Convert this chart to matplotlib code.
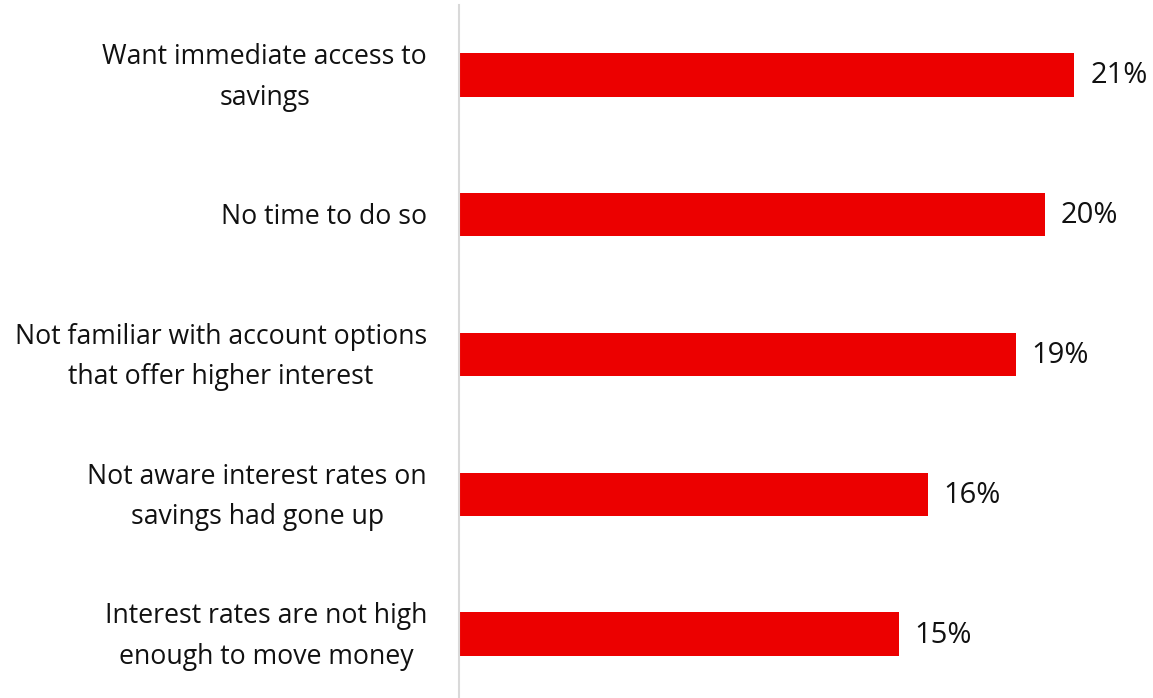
import matplotlib
matplotlib.use("Agg")
import matplotlib.pyplot as plt
import matplotlib.transforms as mtransforms

categories = [
    "Want immediate access to\nsavings",
    "No time to do so",
    "Not familiar with account options\nthat offer higher interest",
    "Not aware interest rates on\nsavings had gone up",
    "Interest rates are not high\nenough to move money",
]
values = [21, 20, 19, 16, 15]
value_labels = ["21%", "20%", "19%", "16%", "15%"]

plt.rcParams['font.family'] = ['Open Sans', 'DejaVu Sans']

W, H = 1153, 698
fig = plt.figure(figsize=(W / 100, H / 100), dpi=100)
left = 459 / W
ax = fig.add_axes([left, 0, 1 - left, 1 - 5 / H])

red = "#EC0000"
ypos = list(range(len(categories)))
ax.barh(ypos, values, height=0.31, color=red)
ax.set_ylim(4.457, -0.5)
ax.set_xlim(0, (W - 459) / 29.3)

for y, v, lab in zip(ypos, values, value_labels):
    ax.annotate(lab, (v, y), xytext=(16, -1), textcoords="offset pixels",
                va="center", ha="left", fontsize=21, color="#111111")

ax.set_yticks(ypos)
ax.set_yticklabels(categories)
ax.tick_params(axis="y", length=0, pad=23, labelsize=19.2, labelcolor="#111111")
ax.set_xticks([])
for s in ["top", "right", "bottom"]:
    ax.spines[s].set_visible(False)
ax.spines["left"].set_color("#d9d9d9")
ax.spines["left"].set_linewidth(1.5)
shift = mtransforms.ScaledTranslation(0, -2.5 / 100, fig.dpi_scale_trans)
for t in ax.get_yticklabels():
    t.set_ha("right")
    t.set_va("center")
    t.set_multialignment("center")
    t.set_linespacing(1.6)
    t.set_transform(t.get_transform() + shift)

fig.savefig("out.png", dpi=100)
